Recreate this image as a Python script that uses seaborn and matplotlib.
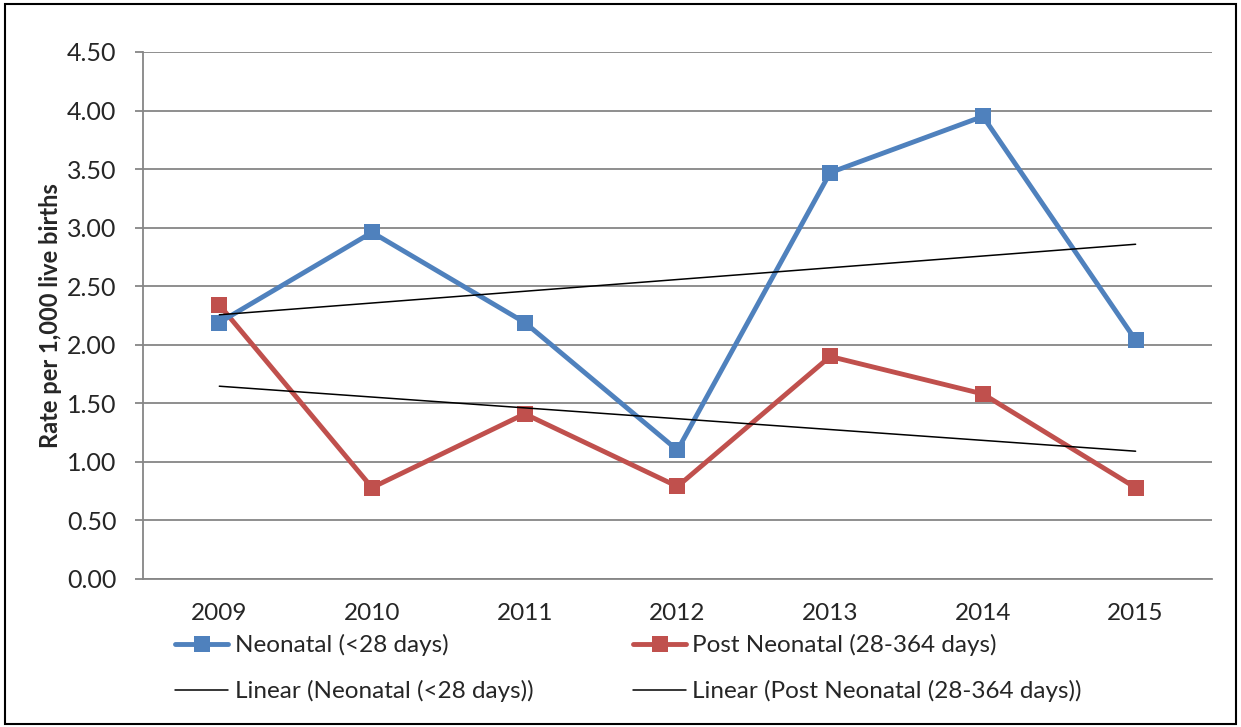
import seaborn as sns
import numpy as np
import matplotlib.pyplot as plt
import pandas as pd
from matplotlib.lines import Line2D
from matplotlib.patches import Rectangle

years = ["2009", "2010", "2011", "2012", "2013", "2014", "2015"]
neonatal = [2.19, 2.96, 2.19, 1.10, 3.47, 3.95, 2.04]
post_neonatal = [2.34, 0.78, 1.41, 0.79, 1.90, 1.58, 0.78]

blue = "#4F81BD"
red = "#C0504D"
grid_col = "#868686"

sns.set_style("white")
plt.rcParams["font.family"] = ["Lato", "DejaVu Sans"]

df = pd.DataFrame({"pos": range(len(years)), "Neonatal": neonatal, "Post": post_neonatal})

fig = plt.figure(figsize=(12.41, 7.27), dpi=100)
ax = fig.add_axes([0.1152, 0.2036, 0.8614, 0.7249])

# trend lines (linear fit, like Excel's "Linear" trendline)
sns.regplot(data=df, x="pos", y="Neonatal", scatter=False, ci=None, truncate=True,
            color="black", line_kws={"linewidth": 1.1, "zorder": 4}, ax=ax)
sns.regplot(data=df, x="pos", y="Post", scatter=False, ci=None, truncate=True,
            color="black", line_kws={"linewidth": 1.1, "zorder": 4}, ax=ax)

sns.lineplot(data=df, x="pos", y="Neonatal", color=blue, linewidth=3.5, marker="s",
             markersize=11, markeredgewidth=0, ax=ax, zorder=3)
sns.lineplot(data=df, x="pos", y="Post", color=red, linewidth=3.5, marker="s",
             markersize=11, markeredgewidth=0, ax=ax, zorder=2)

ax.set_xlim(-0.5, len(years) - 0.5)
ax.set_ylim(0, 4.5)
ax.set_yticks(np.arange(0, 4.51, 0.5))
ax.set_yticklabels([f"{v:.2f}" for v in np.arange(0, 4.51, 0.5)], fontsize=18)
ax.set_xticks(range(len(years)))
ax.set_xticklabels(years, fontsize=17.5)
ax.set_xticks(np.arange(-0.5, len(years), 1.0), minor=True)
ax.tick_params(axis="x", which="major", length=0, pad=17)
ax.tick_params(axis="x", which="minor", length=6, width=1.3, color=grid_col, direction="out")
ax.tick_params(axis="y", length=6, width=1.3, color=grid_col, direction="out", pad=13, left=True)

ax.yaxis.grid(True, color=grid_col, linewidth=1.3)
ax.xaxis.grid(False)
ax.set_axisbelow(True)
for side in ["top", "right"]:
    ax.spines[side].set_visible(False)
for side in ["left", "bottom"]:
    ax.spines[side].set_color(grid_col)
    ax.spines[side].set_linewidth(1.3)

ax.set_xlabel("")
ax.set_ylabel("Rate per 1,000 live births", fontsize=17, fontweight="bold", labelpad=4)

handles = [
    Line2D([], [], color=blue, linewidth=3.5, marker="s", markersize=11, markeredgewidth=0),
    Line2D([], [], color="black", linewidth=1.1),
    Line2D([], [], color=red, linewidth=3.5, marker="s", markersize=11, markeredgewidth=0),
    Line2D([], [], color="black", linewidth=1.1),
]
labels = ["Neonatal (<28 days)", "Linear (Neonatal (<28 days))",
          "Post Neonatal (28-364 days)", "Linear (Post Neonatal (28-364 days))"]
fig.legend(handles, labels, ncol=2, loc="upper left", bbox_to_anchor=(0.141, 0.128),
           frameon=False, fontsize=17.5, handlelength=2.2, handletextpad=0.25,
           columnspacing=4.1, labelspacing=1.0, borderaxespad=0, borderpad=0)

fig.patches.append(Rectangle((0.004, 0.004), 0.992, 0.99, transform=fig.transFigure,
                             fill=False, edgecolor="black", linewidth=1.5))

fig.savefig("out.png", dpi=100)
